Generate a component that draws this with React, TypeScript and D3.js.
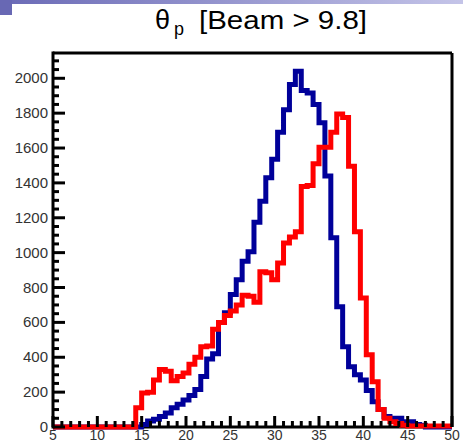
import React from "react";
import * as d3 from "d3";

// Histogram binning (degrees)
const BIN_START = 5;
const BIN_WIDTH = 2 / 3;

// Blue histogram counts, one per bin starting at 5 deg
const blueCounts = [
  0, 0, 0, 0, 0, 0, 0, 0, 0, 0, 0, 0, 0, 0, 0,
  15, 35, 45, 60, 80, 110, 130, 155, 180, 215, 290, 390, 420, 600, 655,
  760, 845, 950, 1005, 1175, 1295, 1430, 1535, 1690, 1820, 1965, 2040, 1930, 1915, 1850,
  1745, 1440, 1085, 690, 460, 345, 300, 270, 210, 145, 100, 60, 50, 50, 30,
  30, 15, 10, 0, 0, 0, 0, 0,
];

// Red histogram counts, one per bin starting at 5 deg
const redCounts = [
  0, 0, 0, 0, 0, 0, 0, 0, 0, 0, 0, 0, 0, 0, 110,
  195, 200, 270, 330, 320, 265, 290, 310, 360, 400, 460, 465, 560, 600, 640,
  665, 700, 755, 750, 715, 890, 885, 845, 940, 1055, 1090, 1120, 1380, 1385, 1510,
  1605, 1605, 1690, 1795, 1775, 1495, 1120, 740, 415, 260, 100, 50, 30, 20, 10,
  6, 6, 6, 6, 6, 6, 6, 6,
];

const xTickLabels = [5, 10, 15, 20, 25, 30, 35, 40, 45, 50];
const yTickLabels = [0, 200, 400, 600, 800, 1000, 1200, 1400, 1600, 1800, 2000];
const X_DOMAIN = [5, 50];
const Y_DOMAIN = [0, 2145];

export default function App() {
  const W = 463;
  const H = 443;
  const left = 53, right = 452, top = 53, bottom = 427;
  const x = d3.scaleLinear().domain(X_DOMAIN).range([left, right]);
  const y = d3.scaleLinear().domain(Y_DOMAIN).range([bottom, top]);

  const stepPath = (counts: number[]) => {
    const pts: [number, number][] = counts.map((c, i) => [BIN_START + i * BIN_WIDTH, c]);
    pts.push([BIN_START + counts.length * BIN_WIDTH, counts[counts.length - 1]]);
    const line = d3
      .line<[number, number]>()
      .x((d) => x(Math.min(Math.max(d[0], X_DOMAIN[0]), X_DOMAIN[1])))
      .y((d) => y(d[1]))
      .curve(d3.curveStepAfter);
    return line(pts) || "";
  };

  const xMinor = d3.range(5, 50.001, 1);
  const yMinor = d3.range(0, 2145, 50);
  const font = "'Liberation Sans', Arial, Helvetica, sans-serif";

  return (
    <svg
      width={W}
      height={H}
      style={{ position: "fixed", left: 0, top: 0, background: "#fff" }}
    >
      <defs>
        <linearGradient id="band" x1="0" x2="1" y1="0" y2="0">
          <stop offset="0" stopColor="#6a6ab6" />
          <stop offset="1" stopColor="#c4c4e8" />
        </linearGradient>
      </defs>
      <rect x={0} y={0} width={W} height={H} fill="#fff" />
      <rect x={0} y={0} width={W} height={4} fill="url(#band)" />
      <rect x={0} y={0} width={12} height={15} fill="#6868b4" />

      {/* Title */}
      <text fontFamily={font} fill="#000">
        <tspan x={155} y={29} fontSize={27}>θ</tspan>
        <tspan x={174} y={35} fontSize={18}>p</tspan>
        <tspan x={199} y={29} fontSize={26} textLength={168} lengthAdjust="spacingAndGlyphs">
          [Beam &gt; 9.8]
        </tspan>
      </text>

      {/* Axis base line */}
      <line x1={left} x2={right} y1={bottom} y2={bottom} stroke="#000" strokeWidth={3} />

      {/* Histograms */}
      <path d={stepPath(blueCounts)} fill="none" stroke="#00009a" strokeWidth={5} strokeLinejoin="miter" />
      <path d={stepPath(redCounts)} fill="none" stroke="#ff0000" strokeWidth={5} strokeLinejoin="miter" />

      {/* Frame */}
      <line x1={left} x2={right} y1={top} y2={top} stroke="#000" strokeWidth={3} />
      <line x1={right} x2={right} y1={top} y2={bottom} stroke="#000" strokeWidth={3} />
      <line x1={left} x2={left} y1={top - 1.5} y2={bottom + 1.5} stroke="#000" strokeWidth={3} />

      {/* X ticks */}
      {xMinor.map((v) => {
        const major = xTickLabels.includes(v);
        return (
          <line
            key={"xt" + v}
            x1={x(v)}
            x2={x(v)}
            y1={bottom}
            y2={bottom - (major ? 11 : 6)}
            stroke="#000"
            strokeWidth={3}
          />
        );
      })}
      {/* Y ticks */}
      {yMinor.map((v) => {
        const major = yTickLabels.includes(v);
        return (
          <line
            key={"yt" + v}
            x1={left}
            x2={left + (major ? 12 : 6)}
            y1={y(v)}
            y2={y(v)}
            stroke="#000"
            strokeWidth={3}
          />
        );
      })}

      {/* X labels */}
      {xTickLabels.map((v) => (
        <text
          key={"xl" + v}
          x={x(v)}
          y={439.5}
          fontSize={14}
          fontFamily={font}
          fill="#333"
          textAnchor="middle"
        >
          {v}
        </text>
      ))}
      {/* Y labels */}
      {yTickLabels.map((v) => (
        <text
          key={"yl" + v}
          x={48}
          y={y(v) + 5}
          fontSize={15}
          fontFamily={font}
          fill="#333"
          textAnchor="end"
        >
          {v}
        </text>
      ))}
    </svg>
  );
}
